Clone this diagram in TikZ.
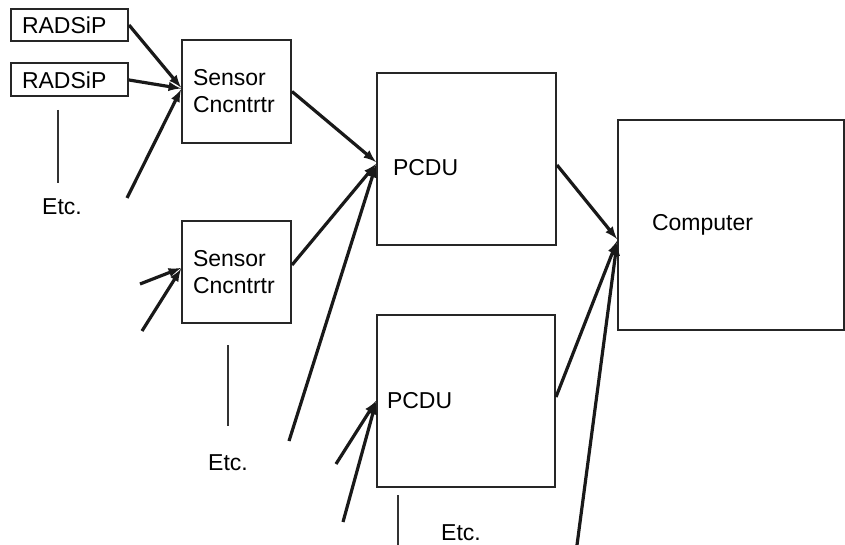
\documentclass[tikz,border=0pt]{standalone}
\usepackage{fontspec}
\setmainfont{Liberation Sans}
\usetikzlibrary{positioning}

\begin{document}
\begin{tikzpicture}[
  x=1pt,
  y=-1pt,
  box/.style={
    draw=black!85,
    line width=2pt,
    rectangle,
    align=left,
    inner ysep=0pt,
    font=\fontsize{23}{27}\selectfont
  },
  feed/.style={
    -latex,
    line width=3.2pt,
    black!90
  },
  more/.style={
    line width=1.4pt,
    black!80
  },
  etc/.style={
    font=\fontsize{23}{27}\selectfont
  }
]
  \useasboundingbox (0,0) rectangle (845,545);

  \node[box, minimum height=32pt, text width=95pt, inner xsep=11pt]
    (radsipA) at (69.5,25) {RADSiP};
  \node[box, minimum height=33pt, text width=95pt, inner xsep=11pt]
    (radsipB) at (69.5,80) {RADSiP};
  \node[box, minimum height=103pt, text width=87pt, inner xsep=11pt]
    (sensorA) at (236.5,91.5) {Sensor\\Cncntrtr};
  \node[box, minimum height=102pt, text width=87pt, inner xsep=11pt]
    (sensorB) at (236.5,272) {Sensor\\Cncntrtr};
  \node[box, minimum height=172pt, text width=147pt, inner xsep=16pt,
    text height=33pt]
    (pcduA) at (466.5,159) {PCDU};
  \node[box, minimum height=172pt, text width=158pt, inner xsep=10pt]
    (pcduB) at (466,401) {PCDU};
  \node[box, minimum height=210pt, text width=158pt, inner xsep=34pt]
    (computer) at (731,225) {Computer};

  \node[etc] (etcA) at (62,207) {Etc.};
  \node[etc] (etcB) at (228,463) {Etc.};
  \node[etc] (etcC) at (461,533) {Etc.};

  \coordinate (looseA) at (127,198);
  \coordinate (looseB) at (140,284);
  \coordinate (looseC) at (142,331);
  \coordinate (looseD) at (289,441);
  \coordinate (looseE) at (336,464);
  \coordinate (looseF) at (343,522);
  \coordinate (looseG) at (577,545);

  \coordinate (dotsA) at (58,110);
  \coordinate (dotsB) at (228,345);
  \coordinate (dotsC) at (398,495);

  \draw[more] (dotsA) -- ++(0,73);
  \draw[more] (dotsB) -- ++(0,81);
  \draw[more] (dotsC) -- ++(0,50);

  \draw[feed] (radsipA.east) -- ([yshift=4pt]sensorA.west);
  \draw[feed] (radsipB.east) -- ([yshift=3pt]sensorA.west);
  \draw[feed] (looseA) -- ([yshift=2pt]sensorA.west);

  \draw[feed] (looseB) -- ([yshift=4pt]sensorB.west);
  \draw[feed] (looseC) -- ([yshift=3pt]sensorB.west);

  \draw[feed] (sensorA.east) -- ([yshift=-3pt]pcduA.west);
  \draw[feed] ([yshift=7pt]sensorB.east) -- ([yshift=-5pt]pcduA.west);
  \draw[feed] (looseD) -- ([yshift=-6pt]pcduA.west);

  \draw[feed] (looseE) -- (pcduB.west);
  \draw[feed] (looseF) -- ([yshift=-1pt]pcduB.west);

  \draw[feed] ([yshift=-6pt]pcduA.east) -- ([yshift=-14pt]computer.west);
  \draw[feed] ([yshift=4pt]pcduB.east) -- ([yshift=-16pt]computer.west);
  \draw[feed] (looseG) -- ([yshift=-18pt]computer.west);
\end{tikzpicture}
\end{document}
